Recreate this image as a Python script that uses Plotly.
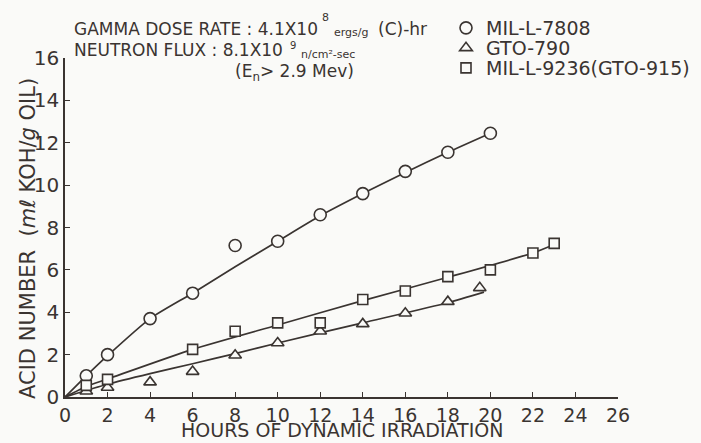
import plotly.graph_objects as go

# ---------------- data ----------------
hours_7808 = [1, 2, 4, 6, 8, 10, 12, 14, 16, 18, 20]
acid_7808 = [1.0, 2.0, 3.7, 4.9, 7.15, 7.35, 8.6, 9.6, 10.65, 11.55, 12.45]
curve_hours_7808 = [0, 1, 2, 4, 6, 8, 10, 12, 14, 16, 18, 20]
curve_acid_7808 = [0, 1.0, 1.95, 3.7, 4.9, 6.15, 7.35, 8.55, 9.6, 10.6, 11.55, 12.45]

hours_790 = [1, 2, 4, 6, 8, 10, 12, 14, 16, 18, 19.5]
acid_790 = [0.27, 0.45, 0.7, 1.2, 1.97, 2.55, 3.1, 3.45, 3.95, 4.5, 5.15]
curve_hours_790 = [0, 2, 4, 6, 8, 10, 14, 18, 19.7]
curve_acid_790 = [0, 0.6, 1.1, 1.57, 2.05, 2.55, 3.5, 4.45, 4.95]

hours_9236 = [1, 2, 6, 8, 10, 12, 14, 16, 18, 20, 22, 23]
acid_9236 = [0.55, 0.83, 2.25, 3.1, 3.5, 3.5, 4.6, 5.0, 5.68, 6.0, 6.8, 7.25]
curve_hours_9236 = [0, 1, 2, 6, 10, 14, 18, 22, 23]
curve_acid_9236 = [0, 0.5, 0.85, 2.25, 3.4, 4.55, 5.65, 6.8, 7.2]

series_names = ["MIL-L-7808", "GTO-790", "MIL-L-9236(GTO-915)"]
x_ticks = list(range(0, 27, 2))
y_ticks = list(range(0, 17, 2))

INK = "#3a3431"
BG = "#fafaf8"
FONT = "DejaVu Sans"

ML, MR, MT, MB = 65, 83, 58, 46
W, H = 701, 443
PW = W - ML - MR
PH = H - MT - MB


def px_x(p):
    return (p - ML) / PW


def px_y(p):
    return (H - MB - p) / PH


fig = go.Figure()

# fitted curves (drawn under the markers)
for cx, cy in [
    (curve_hours_7808, curve_acid_7808),
    (curve_hours_790, curve_acid_790),
    (curve_hours_9236, curve_acid_9236),
]:
    fig.add_trace(go.Scatter(
        x=cx, y=cy, mode="lines",
        line=dict(color=INK, width=1.7, shape="spline", smoothing=0.6),
        showlegend=False, hoverinfo="skip", cliponaxis=False,
    ))

# measured points, each with its own one-line legend
for xs, ys, sym, size, name, leg in [
    (hours_7808, acid_7808, "circle", 12, series_names[0], "legend"),
    (hours_790, acid_790, "triangle-up", 11, series_names[1], "legend2"),
    (hours_9236, acid_9236, "square", 10, series_names[2], "legend3"),
]:
    fig.add_trace(go.Scatter(
        x=xs, y=ys, mode="markers", name=name, legend=leg,
        marker=dict(symbol=sym, size=size, color=BG,
                    line=dict(color=INK, width=1.6)),
        cliponaxis=False,
    ))

leg_common = dict(
    xanchor="left", yanchor="middle",
    font=dict(family=FONT, size=19, color=INK),
    bgcolor="rgba(0,0,0,0)", borderwidth=0, itemwidth=30,
)

main_font = dict(family=FONT, size=17, color=INK)
small_font = dict(family=FONT, size=11, color=INK)


def ann(text, x, y, font, xanchor="left", yanchor="middle", **kw):
    return dict(text=text, xref="paper", yref="paper", x=px_x(x), y=px_y(y),
                xanchor=xanchor, yanchor=yanchor, showarrow=False, font=font, **kw)


annotations = [
    ann("GAMMA DOSE RATE : 4.1X10", 72, 29, main_font),
    ann("8", 325, 18, small_font, xanchor="center"),
    ann("ergs/g", 332, 33, small_font),
    ann("(C)-hr", 376, 29, main_font),
    ann("NEUTRON FLUX : 8.1X10", 72, 50, main_font),
    ann("9", 293, 45, dict(family=FONT, size=10, color=INK), xanchor="center"),
    ann("n/cm²-sec", 299, 55, small_font),
    ann("(E<sub>n</sub>> 2.9 Mev)", 233, 73, main_font),
    # axis titles
    ann("HOURS OF DYNAMIC IRRADIATION", (ML + W - MR) / 2, 443,
        dict(family=FONT, size=19, color=INK), xanchor="center", yanchor="bottom"),
    ann("ACID NUMBER  (<i>mℓ</i> KOH/<i>g</i> OIL)", 28, 239,
        dict(family=FONT, size=21, color=INK), xanchor="center", textangle=-90),
]

fig.update_layout(
    width=W, height=H,
    margin=dict(l=ML, r=MR, t=MT, b=MB, autoexpand=False),
    paper_bgcolor=BG, plot_bgcolor=BG,
    font=dict(family=FONT, color=INK, size=19),
    showlegend=True,
    legend=dict(x=px_x(446), y=px_y(28), **leg_common),
    legend2=dict(x=px_x(446), y=px_y(48), **leg_common),
    legend3=dict(x=px_x(446), y=px_y(68), **leg_common),
    xaxis=dict(
        range=[0, 26], tickvals=x_ticks, ticktext=[str(v) for v in x_ticks],
        showline=True, linecolor=INK, linewidth=1.7,
        ticks="inside", ticklen=5, tickwidth=1.3, tickcolor=INK,
        showgrid=False, zeroline=False,
        tickfont=dict(family=FONT, size=19, color=INK),
    ),
    yaxis=dict(
        range=[0, 16], tickvals=y_ticks, ticktext=[str(v) for v in y_ticks],
        showline=True, linecolor=INK, linewidth=1.7,
        ticks="inside", ticklen=5, tickwidth=1.3, tickcolor=INK,
        showgrid=False, zeroline=False,
        tickfont=dict(family=FONT, size=20, color=INK),
    ),
    annotations=annotations,
)

# remove the browser's default 8px page margin so the figure sits at (0, 0)
fig.write_html(
    "out.html",
    config={"displayModeBar": False},
    post_script="document.body.style.margin='0';document.body.style.overflow='hidden';",
)
